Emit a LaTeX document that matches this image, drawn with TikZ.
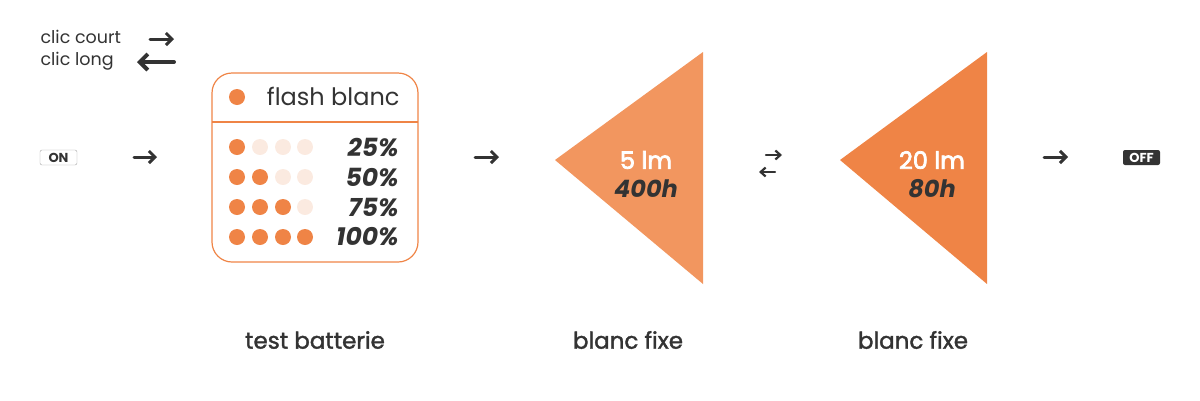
\documentclass[tikz,border=0pt]{standalone}
\usepackage{fontspec}
\setmainfont{Poppins}
\newfontfamily\medfont{Poppins}[FakeBold=1.6]
\newfontfamily\semifont{Poppins}[FakeBold=3]
\usetikzlibrary{arrows.meta}
\definecolor{ink}{HTML}{333333}
\definecolor{orng}{HTML}{EF8446}
\definecolor{orngl}{HTML}{F2965F}
\definecolor{pale}{HTML}{FBEAE0}
\begin{document}
\begin{tikzpicture}[x=1pt, y=-1pt,
            arr/.style={-{Straight Barb[length=6pt, width=12pt]}, line width=3pt, line cap=round, ink},
            arrthin/.style={-{Straight Barb[length=5pt, width=9pt]}, line width=2.2pt, line cap=round, ink},
            arrlong/.style={{Straight Barb[length=8pt, width=16pt]}-, line width=4pt, line cap=round, ink},
            dot/.style={circle, fill=orng, minimum size=16pt, inner sep=0pt},
            dotoff/.style={circle, fill=pale, minimum size=16pt, inner sep=0pt},
            pct/.style={anchor=east, font=\fontsize{25}{27}\selectfont\bfseries\itshape, text=ink},
            label/.style={font=\fontsize{23}{26}\selectfont\medfont, text=ink},
            tag/.style={font=\fontsize{13}{14}\selectfont\bfseries, rounded corners=2pt, inner sep=0pt, minimum width=37pt, minimum height=15pt}
        ]
            \useasboundingbox (0,0) rectangle (1200,400);
            % legend
            \node[anchor=west, font=\fontsize{17.5}{19}\selectfont, text=ink] (court) at (37,37) {clic court};
            \node[anchor=west, font=\fontsize{17.5}{19}\selectfont, text=ink] (long) at (37,61) {clic long};
            \coordinate (c1) at (150,39); \coordinate (c2) at (174,39);
            \coordinate (l1) at (137,62); \coordinate (l2) at (174,62);
            \draw[arr] (c1) -- (c2);
            \draw[arrlong] (l1) -- (l2);
            % on / off
            \node[tag, draw=gray!70, fill=white, text=ink] (on) at (58.5,157.5) {ON};
            \node[tag, fill=ink, text=white] (off) at (1141.5,157.5) {OFF};
            % battery test box
            \draw[orng, line width=1.2pt, rounded corners=20pt] (212,73) rectangle (418,262);
            \draw[orng, line width=1.2pt] (212,122) -- (418,122);
            \node[dot] (h) at (237,97) {};
            \node[anchor=east, font=\fontsize{24}{26}\selectfont, text=ink] (flash) at (403,96) {flash blanc};
            \foreach \r/\y/\p in {1/147/25, 2/177/50, 3/207/75, 4/237/100} {
                \foreach \c/\x in {1/237, 2/260, 3/283, 4/305} {
                    \ifnum\c>\r
                        \node[dotoff] (d\r\c) at (\x,\y) {};
                    \else
                        \node[dot] (d\r\c) at (\x,\y) {};
                    \fi
                }
                \node[pct] (p\r) at (402,\y) {\p\%};
            }
            % triangles
            \fill[orngl] (555,160) -- (703,52) -- (703,284) -- cycle;
            \fill[orng] (840,160) -- (987,52) -- (987,284) -- cycle;
            \node[font=\fontsize{24}{26}\selectfont\semifont, text=white] (lm1) at (646,160) {5 lm};
            \node[font=\fontsize{24}{26}\selectfont\bfseries\itshape, text=ink] (h1) at (646,189) {400h};
            \node[font=\fontsize{24}{26}\selectfont\semifont, text=white] (lm2) at (932,160) {20 lm};
            \node[font=\fontsize{24}{26}\selectfont\bfseries\itshape, text=ink] (h2) at (932,189) {80h};
            % arrows
            \coordinate (a1) at (134,157); \coordinate (a2) at (157,157);
            \coordinate (b1) at (475,157); \coordinate (b2) at (499,157);
            \coordinate (e1) at (766,155); \coordinate (e2) at (782,155);
            \coordinate (f1) at (775,172); \coordinate (f2) at (759,172);
            \coordinate (g1) at (1044,157); \coordinate (g2) at (1068,157);
            \draw[arr] (a1) -- (a2);
            \draw[arr] (b1) -- (b2);
            \draw[arrthin] (e1) -- (e2);
            \draw[arrthin] (f1) -- (f2);
            \draw[arr] (g1) -- (g2);
            % captions
            \node[label] (t1) at (315,340) {test batterie};
            \node[label] (t2) at (628,340) {blanc fixe};
            \node[label] (t3) at (913,340) {blanc fixe};
        \end{tikzpicture}
\end{document}
